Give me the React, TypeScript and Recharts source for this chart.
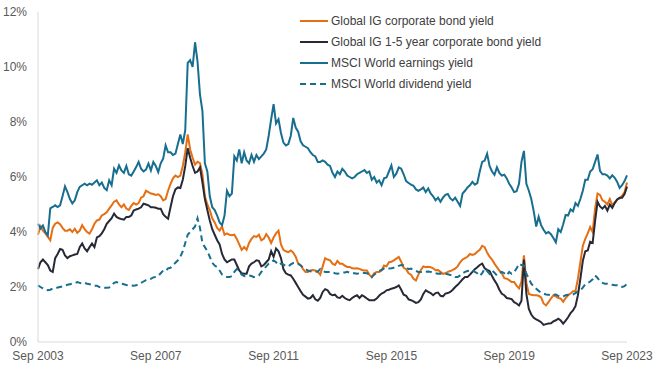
import React from 'react';
import { LineChart, Line, XAxis, YAxis, Legend } from 'recharts';

const MONTH_NAMES = ['Jan', 'Feb', 'Mar', 'Apr', 'May', 'Jun', 'Jul', 'Aug', 'Sep', 'Oct', 'Nov', 'Dec'];
// Monthly categories, Sep 2003 .. Sep 2023
const months: string[] = Array.from({ length: 241 }, (_, i) => {
  const t = 8 + i;
  return `${MONTH_NAMES[t % 12]} ${2003 + Math.floor(t / 12)}`;
});

const xTicks = ['Sep 2003', 'Sep 2007', 'Sep 2011', 'Sep 2015', 'Sep 2019', 'Sep 2023'];
const yTicks = [0, 2, 4, 6, 8, 10, 12];

// Global IG corporate bond yield (%)
const igCorp = [
  3.9, 4.2, 4.05, 3.95, 3.82, 3.7, 4.15, 4.3, 4.35, 4.28, 4.15, 4.05,
  4.05, 4.1, 4.0, 4.12, 3.97, 4.05, 4.25, 4.1, 4.0, 3.94, 4.1, 4.3,
  4.42, 4.45, 4.6, 4.65, 4.72, 4.85, 4.97, 5.1, 5.15, 5.0, 4.9, 5.0,
  4.85, 4.8, 4.95, 5.05, 5.0, 5.05, 5.25, 5.3, 5.5, 5.45, 5.4, 5.38,
  5.35, 5.37, 5.3, 5.15, 5.2, 5.5, 5.75, 5.95, 6.05, 6.0, 6.05, 6.4,
  6.9, 7.55, 7.0, 6.7, 6.45, 6.55, 6.5, 6.1, 5.3, 5.0, 4.8, 4.5,
  4.35, 4.15, 4.05, 4.2, 3.9, 3.95, 3.9, 3.88, 3.9, 3.75, 3.55, 3.35,
  3.45, 3.35, 3.6, 3.75, 3.85, 3.82, 3.9, 3.7, 3.75, 3.92, 3.8, 3.6,
  3.8, 3.95, 4.05, 3.55, 3.35, 3.3, 3.27, 3.33, 3.25, 3.1, 2.85, 2.8,
  2.65, 2.55, 2.55, 2.6, 2.62, 2.6, 2.55, 2.45, 2.75, 3.05, 3.0, 2.97,
  2.85, 2.8, 2.95, 2.85, 2.85, 2.78, 2.73, 2.73, 2.68, 2.67, 2.68, 2.66,
  2.62, 2.6, 2.6, 2.45, 2.36, 2.5, 2.55, 2.55, 2.6, 2.78, 2.75, 2.9,
  2.92, 2.97, 3.03, 3.09, 2.92, 2.7, 2.65, 2.5, 2.45, 2.3, 2.24, 2.45,
  2.62, 2.75, 2.72, 2.74, 2.72, 2.68, 2.61, 2.62, 2.55, 2.48, 2.5, 2.55,
  2.58, 2.62, 2.67, 2.75, 2.9, 3.0, 3.05, 3.1, 3.2, 3.17, 3.2, 3.28,
  3.35, 3.5, 3.45, 3.25, 3.1, 3.0, 2.85, 2.72, 2.6, 2.5, 2.32, 2.3,
  2.25, 2.18, 2.18, 2.05, 1.95, 2.2, 3.15, 2.15, 1.75, 1.72, 1.7, 1.7,
  1.68, 1.62, 1.4, 1.33, 1.45, 1.58, 1.7, 1.66, 1.6, 1.58, 1.46, 1.6,
  1.7, 1.76, 1.85, 1.85, 2.3, 2.9, 3.5, 3.75, 3.95, 4.18, 4.0, 4.85,
  5.4, 5.35, 5.15, 5.1, 5.0, 5.2, 4.98, 5.08, 5.18, 5.22, 5.32, 5.45,
  5.8,
];

// Global IG 1-5 year corporate bond yield (%)
const ig15 = [
  2.65, 2.9, 3.0, 2.9, 2.8, 2.6, 2.55, 3.05, 3.2, 3.38, 3.35, 3.15,
  3.05, 3.12, 3.15, 3.18, 3.2, 3.45, 3.58, 3.4, 3.3, 3.45, 3.58, 3.45,
  3.8, 3.85, 3.95, 4.1, 4.3, 4.4, 4.5, 4.67, 4.55, 4.5, 4.47, 4.45,
  4.55, 4.55, 4.6, 4.78, 4.82, 4.85, 4.9, 5.03, 5.0, 4.97, 4.9, 4.9,
  4.88, 4.85, 4.85, 4.65, 4.55, 4.48, 4.9, 5.3, 5.55, 5.62, 5.6, 5.9,
  6.4, 7.05, 6.7, 6.4, 6.15, 6.2, 6.35, 5.8, 5.2, 4.8, 4.42, 4.1,
  3.9, 3.7, 3.55, 3.2, 3.0, 2.9, 2.95, 3.0, 3.0, 2.8, 2.6, 2.5,
  2.48, 2.48, 2.75, 2.85, 2.9, 2.97, 2.95, 2.75, 2.8, 2.9, 3.0, 3.3,
  3.1, 3.4, 3.3, 3.05, 2.65, 2.5, 2.45, 2.42, 2.3, 2.15, 2.0, 1.85,
  1.72, 1.65, 1.58, 1.6, 1.7, 1.55, 1.5, 1.6, 1.82, 1.92, 1.88, 1.75,
  1.7, 1.72, 1.62, 1.6, 1.68, 1.6, 1.55, 1.52, 1.6, 1.66, 1.7, 1.6,
  1.7, 1.65, 1.58, 1.52, 1.52, 1.52, 1.58, 1.68, 1.76, 1.8, 1.88, 1.9,
  1.94, 1.96, 2.0, 2.06, 1.9, 1.72, 1.68, 1.55, 1.52, 1.48, 1.42, 1.45,
  1.55, 1.75, 1.88, 1.82, 1.78, 1.7, 1.78, 1.8, 1.68, 1.66, 1.76, 1.78,
  1.82, 1.9, 2.0, 2.08, 2.18, 2.28, 2.36, 2.36, 2.45, 2.55, 2.65, 2.72,
  2.8, 2.85, 2.68, 2.62, 2.58, 2.4, 2.24, 2.1, 1.9, 1.75, 1.7, 1.6,
  1.58, 1.56, 1.45, 1.4, 1.33, 1.5, 3.0, 1.75, 1.2, 1.0, 0.88, 0.82,
  0.78, 0.72, 0.62, 0.65, 0.67, 0.68, 0.75, 0.79, 0.85, 0.78, 0.67, 0.78,
  0.9, 1.05, 1.15, 1.3, 1.7, 2.3, 2.95, 3.3, 3.33, 3.65, 3.6, 4.4,
  5.1, 4.93, 4.85, 4.95, 4.78, 5.0, 4.88, 5.05, 5.18, 5.25, 5.25, 5.38,
  5.65,
];

// MSCI World earnings yield (%)
const earnings = [
  4.3, 4.13, 4.24, 4.0, 3.88, 4.86, 4.91, 4.97, 4.91, 4.97, 5.3, 5.66,
  5.45, 5.2, 5.04, 5.15, 5.45, 5.64, 5.7, 5.76, 5.7, 5.76, 5.72, 5.8,
  5.88, 5.7, 5.8, 5.6, 5.52, 5.88, 5.7, 6.3, 6.15, 6.42, 6.24, 6.15,
  6.4, 6.1, 6.05, 6.2, 6.36, 6.55, 6.3, 6.2, 6.27, 6.49, 6.24, 6.55,
  6.4, 6.18, 6.5, 6.67, 7.15, 6.9, 6.9, 6.8, 6.85, 7.2, 7.55, 7.2,
  7.7, 10.15, 10.25, 10.0, 10.9, 10.2, 9.0, 8.4, 6.5, 6.2, 5.3, 4.9,
  4.8, 4.6, 4.35, 4.25, 4.6, 5.5, 5.3, 5.4, 6.75, 6.6, 7.0, 6.5,
  6.9, 6.6, 6.5, 6.8, 6.55, 6.8, 6.65, 6.75, 6.85, 7.0, 7.5, 8.1,
  8.65, 7.95, 8.1, 7.6, 7.25, 7.15, 7.2, 7.5, 8.15, 7.8, 7.65, 7.3,
  7.15, 7.1, 7.05, 6.9, 6.8, 6.75, 6.55, 6.55, 6.6, 6.55, 6.45, 6.4,
  6.15, 6.0, 6.2, 6.1, 6.3, 6.2, 6.05, 6.0, 5.95, 6.0, 6.1, 6.15,
  6.2, 6.25, 6.15, 6.2, 5.9, 6.0, 5.8, 5.88, 5.7, 5.95, 5.98, 6.2,
  6.42, 6.0, 6.12, 6.35, 6.3, 6.1, 5.85, 5.78, 5.72, 5.68, 5.55, 5.5,
  5.55, 5.62, 5.45, 5.58, 5.4, 5.3, 5.15, 5.25, 5.1, 5.25, 5.35, 5.38,
  5.22, 5.15, 5.25, 5.1, 4.95, 5.4, 5.5, 5.62, 5.7, 5.82, 5.72, 5.78,
  6.2, 6.55, 6.6, 6.85, 6.4, 6.2, 6.08, 6.35, 6.15, 6.05, 6.08, 5.95,
  5.75, 5.62, 5.45, 5.48, 5.75, 6.55, 6.95, 5.75, 5.5, 5.2, 4.75, 4.2,
  4.55, 4.25, 4.08, 3.95, 4.0, 3.92, 3.78, 3.62, 4.1, 4.0, 4.28, 4.62,
  4.6, 4.82, 4.75, 5.05, 4.95, 5.2, 5.5, 5.9, 5.9, 6.2, 6.28, 6.55,
  6.82, 6.22, 6.1, 6.1, 6.05, 5.95, 6.06, 5.97, 5.82, 5.6, 5.7, 5.85,
  6.06,
];

// MSCI World dividend yield (%)
const dividend = [
  2.06, 2.0, 1.95, 1.9, 1.88, 1.9, 1.94, 1.95, 1.98, 2.0, 2.02, 2.05,
  2.08, 2.1, 2.12, 2.14, 2.18, 2.15, 2.12, 2.15, 2.12, 2.1, 2.08, 2.05,
  2.05, 2.0, 1.98, 1.97, 1.97, 1.98, 2.05, 2.15, 2.18, 2.15, 2.12, 2.1,
  2.07, 2.06, 2.06, 2.05, 2.06, 2.1, 2.15, 2.2, 2.25, 2.28, 2.3, 2.35,
  2.36, 2.4, 2.5, 2.6, 2.58, 2.68, 2.7, 2.8, 2.88, 2.97, 3.1, 3.3,
  3.6, 3.9, 4.0, 4.1, 4.2, 4.5, 4.15, 3.6, 3.45, 3.3, 3.1, 2.88,
  2.78, 2.72, 2.6, 2.45, 2.4, 2.36, 2.36, 2.4, 2.55, 2.65, 2.55, 2.45,
  2.4, 2.39, 2.42, 2.4, 2.36, 2.38, 2.42, 2.55, 2.65, 2.75, 2.85, 2.92,
  2.97, 2.9, 2.8, 2.85, 2.82, 2.75, 2.75, 2.82, 2.87, 2.87, 2.85, 2.78,
  2.72, 2.65, 2.6, 2.57, 2.55, 2.55, 2.56, 2.65, 2.58, 2.55, 2.55, 2.55,
  2.53, 2.5, 2.48, 2.5, 2.52, 2.53, 2.55, 2.52, 2.5, 2.5, 2.48, 2.5,
  2.52, 2.51, 2.5, 2.45, 2.36, 2.45, 2.52, 2.58, 2.62, 2.67, 2.65, 2.67,
  2.68, 2.7, 2.72, 2.77, 2.8, 2.78, 2.72, 2.65, 2.67, 2.62, 2.58, 2.55,
  2.55, 2.55, 2.55, 2.56, 2.55, 2.52, 2.5, 2.48, 2.49, 2.48, 2.48, 2.46,
  2.44, 2.42, 2.36, 2.36, 2.42, 2.5, 2.55, 2.58, 2.6, 2.61, 2.55, 2.5,
  2.4, 2.5, 2.67, 2.58, 2.48, 2.6, 2.52, 2.42, 2.5, 2.55, 2.5, 2.42,
  2.55, 2.48, 2.55, 2.67, 2.85, 2.8, 2.78, 2.48, 2.3, 2.12, 2.02, 1.94,
  1.86, 1.8, 1.76, 1.73, 1.72, 1.7, 1.72, 1.73, 1.68, 1.64, 1.66, 1.7,
  1.72, 1.73, 1.73, 1.78, 1.84, 1.88, 1.98, 2.1, 2.15, 2.2, 2.28, 2.42,
  2.33, 2.2, 2.15, 2.12, 2.12, 2.1, 2.08, 2.06, 2.06, 2.02, 2.0, 2.03,
  2.12,
];

const seriesNames = [
  'Global IG corporate bond yield',
  'Global IG 1-5 year corporate bond yield',
  'MSCI World earnings yield',
  'MSCI World dividend yield',
];

const COLORS = {
  orange: '#E56F12',
  dark: '#272A36',
  teal: '#176E8E',
};

const data = months.map((month, i) => ({
  month,
  igCorp: igCorp[i],
  ig15: ig15[i],
  earnings: earnings[i],
  dividend: dividend[i],
}));

const FONT = '"Liberation Sans", Arial, Helvetica, sans-serif';

const legendItems = [
  { name: seriesNames[0], color: COLORS.orange, dash: undefined as string | undefined },
  { name: seriesNames[1], color: COLORS.dark, dash: undefined },
  { name: seriesNames[2], color: COLORS.teal, dash: undefined },
  { name: seriesNames[3], color: COLORS.teal, dash: '6 4' },
];

const renderLegend = () => (
  <div style={{ fontFamily: FONT }}>
    {legendItems.map((it) => (
      <div key={it.name} style={{ display: 'flex', alignItems: 'center', height: 21 }}>
        <svg width={28} height={10} style={{ display: 'block' }}>
          <line x1={0} y1={5} x2={28} y2={5} stroke={it.color} strokeWidth={2} strokeDasharray={it.dash} />
        </svg>
        <span style={{ marginLeft: 3, fontSize: 12, color: '#404040', whiteSpace: 'nowrap' }}>{it.name}</span>
      </div>
    ))}
  </div>
);

export default function App() {
  return (
    <div style={{ position: 'absolute', left: 0, top: 0, width: 660, height: 366, background: '#fff', fontFamily: FONT }}>
      <LineChart width={660} height={366} data={data} margin={{ top: 12, right: 33, left: 0, bottom: 0 }}>
        <XAxis
          dataKey="month"
          ticks={xTicks}
          interval={0}
          tickLine={false}
          tickSize={0}
          tickMargin={9}
          height={24}
          axisLine={{ stroke: '#D9D9D9' }}
          tick={{ fill: '#595959', fontSize: 12, fontFamily: FONT }}
        />
        <YAxis
          domain={[0, 12]}
          ticks={yTicks}
          interval={0}
          width={38}
          tickLine={false}
          tickSize={0}
          tickMargin={11}
          axisLine={{ stroke: '#D9D9D9' }}
          tickFormatter={(v: number) => `${v}%`}
          tick={{ fill: '#595959', fontSize: 12, fontFamily: FONT }}
        />
        <Legend
          layout="vertical"
          align="center"
          verticalAlign="middle"
          content={renderLegend}
          wrapperStyle={{ left: 300, top: 10, width: 340, height: 90 }}
        />
        <Line type="linear" dataKey="igCorp" name={seriesNames[0]} stroke={COLORS.orange} strokeWidth={2} dot={false} isAnimationActive={false} />
        <Line type="linear" dataKey="ig15" name={seriesNames[1]} stroke={COLORS.dark} strokeWidth={2} dot={false} isAnimationActive={false} />
        <Line type="linear" dataKey="earnings" name={seriesNames[2]} stroke={COLORS.teal} strokeWidth={2} dot={false} isAnimationActive={false} />
        <Line type="linear" dataKey="dividend" name={seriesNames[3]} stroke={COLORS.teal} strokeWidth={2} strokeDasharray="6 4" dot={false} isAnimationActive={false} />
      </LineChart>
    </div>
  );
}
